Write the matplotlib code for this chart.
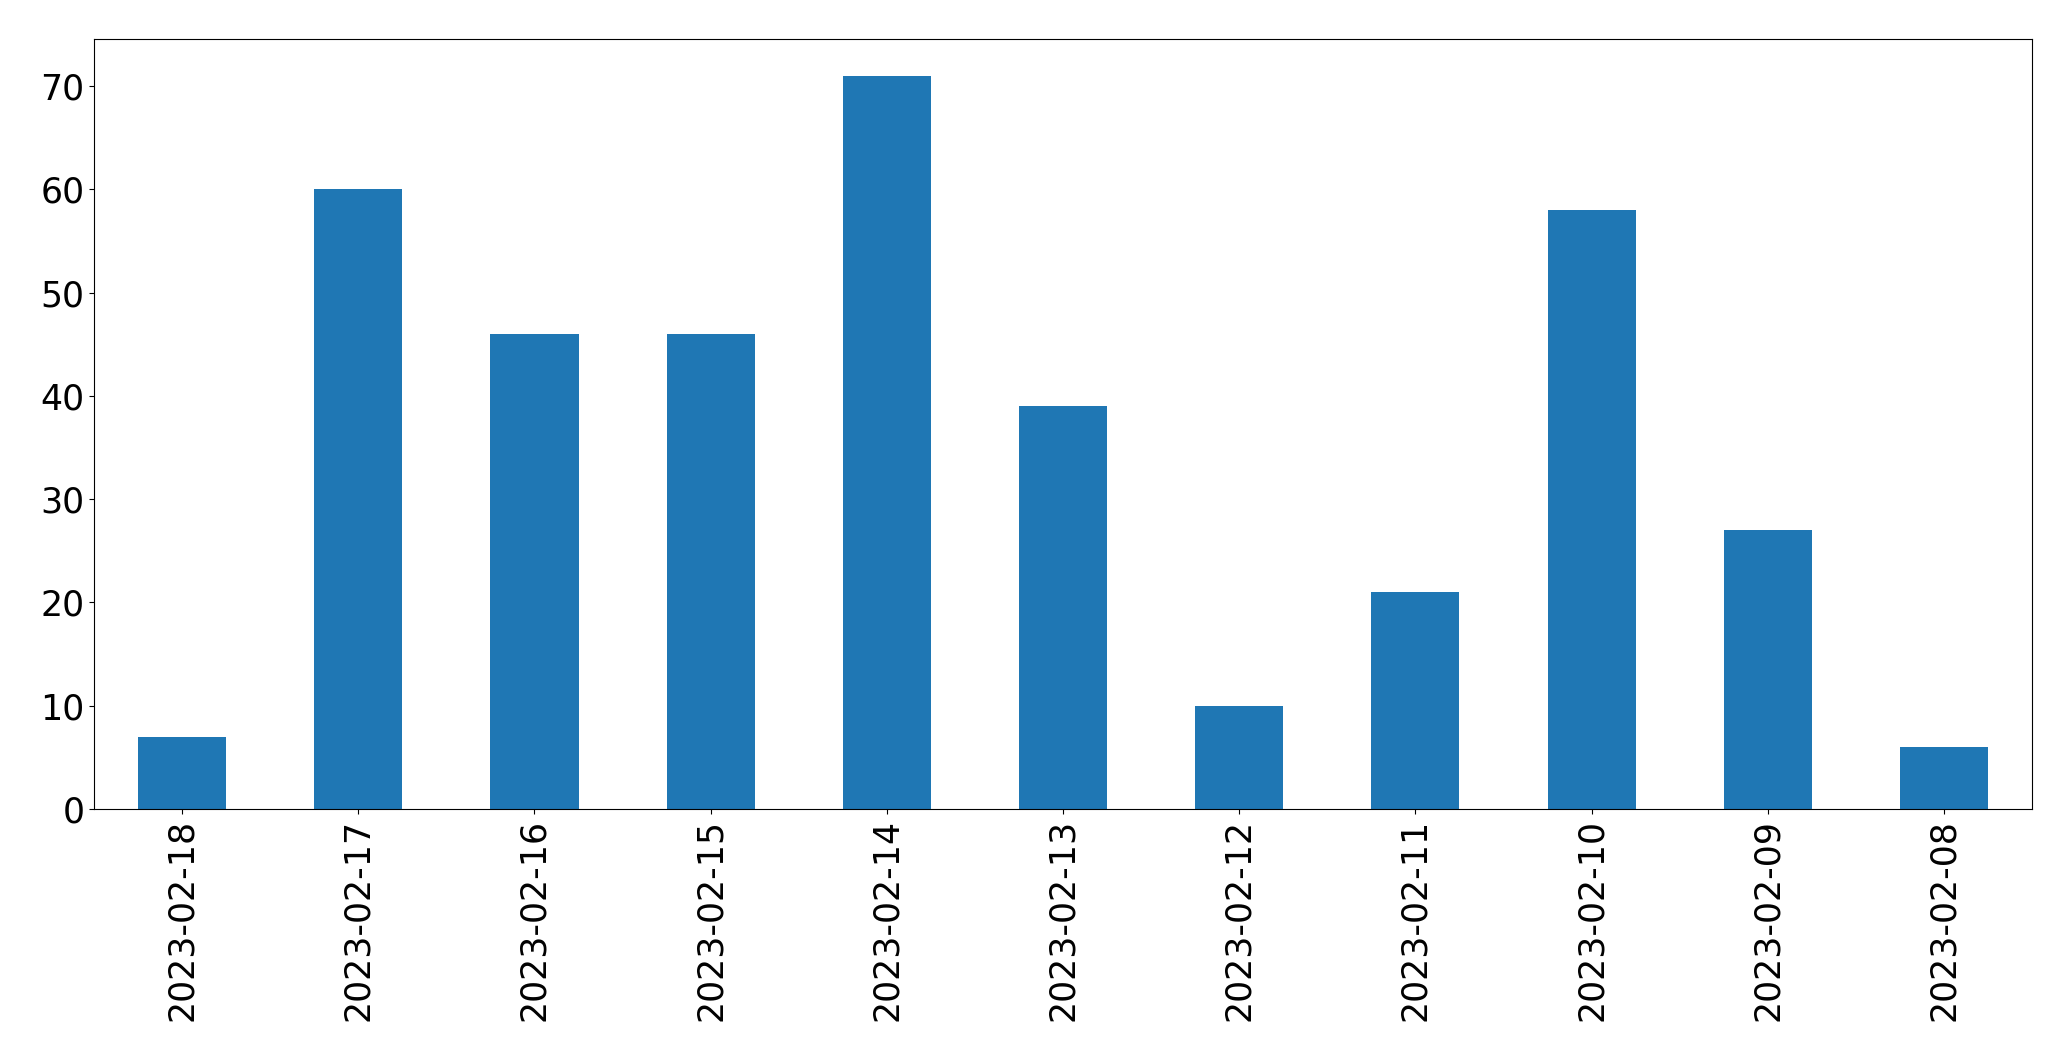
import numpy as np
import matplotlib
matplotlib.use("Agg")
import matplotlib.pyplot as plt

# daily counts, newest first
dates = ["2023-02-18", "2023-02-17", "2023-02-16", "2023-02-15", "2023-02-14",
         "2023-02-13", "2023-02-12", "2023-02-11", "2023-02-10", "2023-02-09",
         "2023-02-08"]
counts = [7, 60, 46, 46, 71, 39, 10, 21, 58, 27, 6]

fig = plt.figure(figsize=(20.71, 10.61), dpi=100)
ax = fig.add_axes([0.0454, 0.2375, 0.9358, 0.7257])

x = np.arange(len(dates))
ax.bar(x, counts, width=0.5, color="#1f77b4")
ax.set_xlim(-0.5, len(dates) - 0.5)
ax.set_ylim(0, max(counts) * 1.05)
ax.set_xticks(x)
ax.set_xticklabels(dates, rotation=90)
ax.tick_params(labelsize=25)

plt.savefig("out.png", dpi=100)
